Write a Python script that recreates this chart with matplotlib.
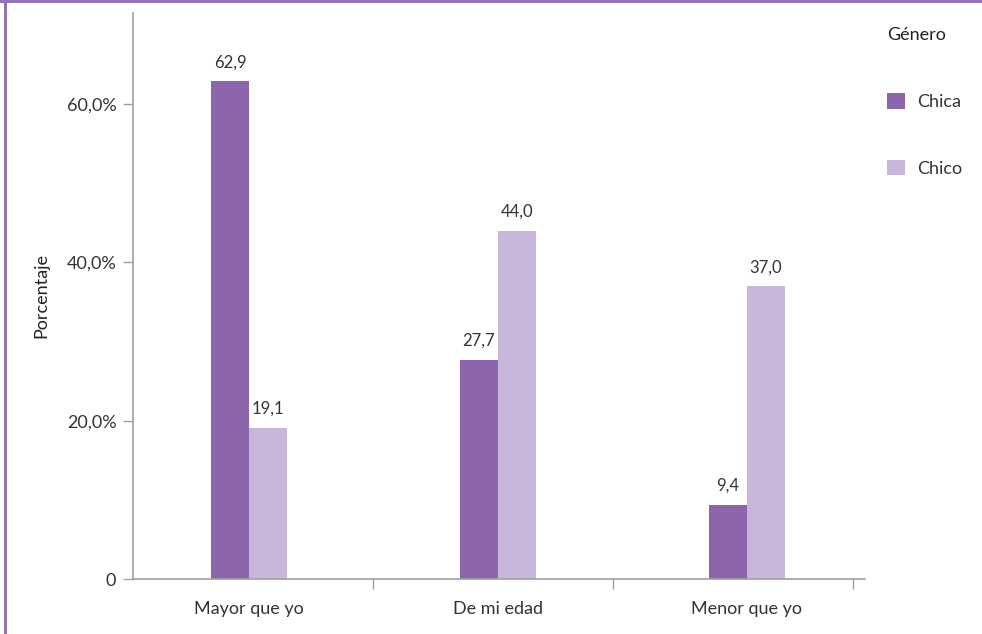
import matplotlib
matplotlib.use("Agg")
import matplotlib.pyplot as plt
import numpy as np

# data
categorias = ["Mayor que yo", "De mi edad", "Menor que yo"]
chica = [62.9, 27.7, 9.4]
chico = [19.1, 44.0, 37.0]
etiquetas_y = ["0", "20,0%", "40,0%", "60,0%"]
valores_y = [0, 20, 40, 60]

col_chica = "#8c65aa"
col_chico = "#c7b6da"
col_borde = "#9672b8"
col_texto = "#333333"
col_eje = "#a0a0a0"

plt.rcParams["font.family"] = ["Lato", "DejaVu Sans"]

fig = plt.figure(figsize=(9.82, 6.34), dpi=100)
ax = fig.add_axes([133 / 982, 55 / 634, 732 / 982, 566 / 634])

x = np.arange(len(categorias))
w = 38 / 249
b1 = ax.bar(x - w / 2, chica, w, color=col_chica, label="Chica")
b2 = ax.bar(x + w / 2, chico, w, color=col_chico, label="Chico")

for bars, vals in ((b1, chica), (b2, chico)):
    for r, v in zip(bars, vals):
        ax.annotate(f"{v:.1f}".replace(".", ","),
                    (r.get_x() + r.get_width() / 2, v),
                    xytext=(0, 10), textcoords="offset points",
                    ha="center", va="baseline", fontsize=12, color=col_texto)

ax.set_ylim(0, 71.5)
ax.set_xlim(-116 / 249, 616 / 249)
ax.set_yticks(valores_y)
ax.set_yticklabels(etiquetas_y)
ax.set_xticks(x)
ax.set_xticklabels(categorias)
ax.tick_params(axis="x", length=0, pad=16, labelsize=13, colors=col_texto)
ax.tick_params(axis="y", length=7, width=1, color=col_eje, pad=5,
               labelsize=13, labelcolor=col_texto)
# boundary ticks between categories
bordes = [(373 - 249) / 249, (613 - 249) / 249, (853 - 249) / 249]
ax.set_xticks(bordes, minor=True)
ax.tick_params(axis="x", which="minor", length=7, width=1, color=col_eje)

for s in ("top", "right"):
    ax.spines[s].set_visible(False)
for s in ("left", "bottom"):
    ax.spines[s].set_color(col_eje)
    ax.spines[s].set_linewidth(1.2)

ax.set_ylabel("Porcentaje", fontsize=13, color="#222222")
ax.yaxis.set_label_coords(-84 / 732, 0.5)

leg = ax.legend(title="Género", loc="upper left",
                bbox_to_anchor=(873 / 982, 1 - 13 / 634),
                bbox_transform=fig.transFigure, frameon=False,
                fontsize=13, title_fontsize=13, alignment="left",
                handlelength=0.95, handleheight=0.95, handletextpad=0.7,
                labelspacing=2.75, borderpad=0.3)
for t in leg.get_texts():
    t.set_color(col_texto)
leg.get_title().set_color("#222222")

# purple frame on top and left
fig.add_artist(plt.Rectangle((0, 1 - 3 / 634), 1, 3 / 634, transform=fig.transFigure,
                             color=col_borde, lw=0))
fig.add_artist(plt.Rectangle((4 / 982, 0), 3 / 982, 1, transform=fig.transFigure,
                             color=col_borde, lw=0))

fig.savefig("out.png", dpi=100)
